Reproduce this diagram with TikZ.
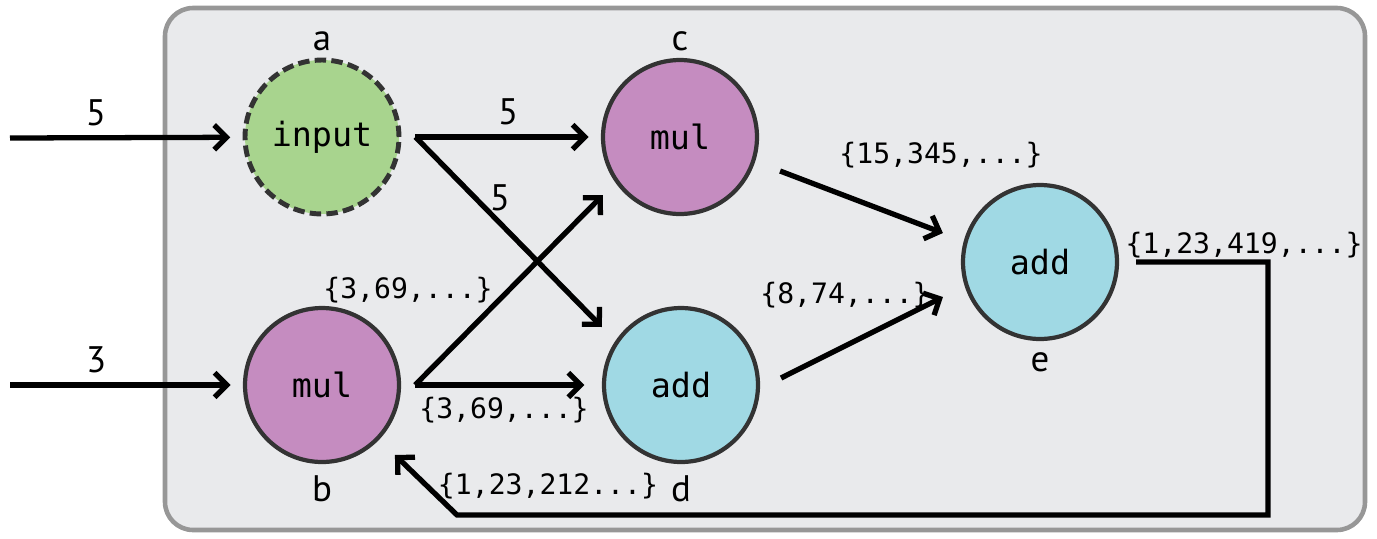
\documentclass[tikz,border=0pt]{standalone}
\usepackage{fontspec}
\setmainfont{PT Sans}
\setmonofont{DejaVu Sans Mono}
\usepackage{tikz}
\usetikzlibrary{arrows.meta,positioning,calc}

\definecolor{panelfill}{HTML}{E9EAEC}
\definecolor{panelline}{HTML}{979797}
\definecolor{nodeline}{HTML}{333333}
\definecolor{infill}{HTML}{A8D48E}
\definecolor{mulfill}{HTML}{C58CC0}
\definecolor{addfill}{HTML}{A0D9E4}

\begin{document}
\begin{tikzpicture}[
    x=0.02cm, y=-0.02cm,
    op/.style={circle, draw=nodeline, line width=2.4pt, minimum size=3.08cm, inner sep=0pt, font=\fontsize{19}{22}\selectfont\ttfamily},
    inop/.style={op, fill=infill, line width=2.8pt, dash pattern=on 6.5pt off 3pt},
    mulop/.style={op, fill=mulfill},
    addop/.style={op, fill=addfill},
    tag/.style={anchor=base, font=\fontsize{21}{24}\selectfont},
    val/.style={font=\fontsize{16}{18}\selectfont\ttfamily},
    arr/.style={-{Straight Barb[length=7pt,width=14pt]}, line width=3pt},
]
\useasboundingbox (0,0) rectangle (1377,538);

% Panel
\draw[panelline, fill=panelfill, line width=2.6pt, rounded corners=16pt] (165,8) rectangle (1365,530);

% Operators
\node[inop] (a) at (322,137) {input};
\node[mulop] (b) at (322,385) {mul};
\node[mulop] (c) at (680,137) {mul};
\node[addop] (d) at (681,385) {add};
\node[addop] (e) at (1040,262) {add};

% Names
\node[tag] (alab) at (322,50) {a};
\node[tag] (blab) at (322,501) {b};
\node[tag] (clab) at (680,50) {c};
\node[tag] (dlab) at (681,501) {d};
\node[tag] (elab) at (1040,371) {e};

% Inputs
\coordinate (in5) at (10,138);
\coordinate (in3) at (10,385);
\draw[arr, shorten >=7pt] (in5) -- node[tag, anchor=south, pos=0.37, yshift=2pt]{5} (a);
\draw[arr, shorten >=7pt] (in3) -- node[tag, anchor=south, pos=0.37, yshift=2pt]{3} (b);

% Split points
\coordinate (asplit) at ($(a.east)+(14,0)$);
\coordinate (bsplit) at ($(b.east)+(14,0)$);

% From a
\draw[arr, shorten >=7pt] (asplit) -- node[tag, anchor=south, yshift=2pt]{5} (c);
\draw[arr] (asplit) -- ($(d.west)+(0,-58)$);
\node[tag] (a2d) at (500,210) {5};

% From b
\draw[arr] (bsplit) -- ($(c.west)+(2,58)$);
\draw[arr, shorten >=10pt] (bsplit) -- (d);
\node[val] (b2c) at (408,290) {\{3,69,...\}};
\node[val] (b2d) at (504,410) {\{3,69,...\}};

% Into e
\draw[arr] ($(c.east)+(21,34)$) -- ($(e.west)+(-18,-29)$);
\draw[arr] ($(d.east)+(21,-7)$) -- ($(e.west)+(-18,35)$);
\node[val] (c2e) at (941,155) {\{15,345,...\}};
\node[val] (d2e) at (845,295) {\{8,74,...\}};

% Loop back
\coordinate (eturn) at (1268,515);
\coordinate (bturn) at (457,515);
\draw[arr] ($(e.east)+(17,0)$) -| (eturn) -- (bturn) -- ($(b.-45)+(17,14)$);
\node[val] (eout) at (1244,245) {\{1,23,419,...\}};
\node[val] (e2b) at (548,486) {\{1,23,212...\}};
\end{tikzpicture}
\end{document}
